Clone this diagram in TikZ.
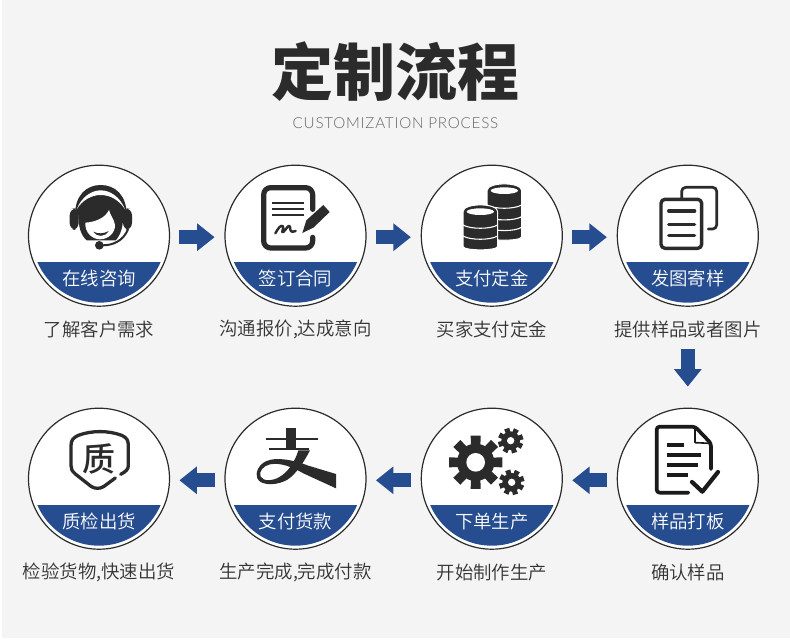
\documentclass[tikz,border=0pt]{standalone}
\usepackage{fontspec}
\usetikzlibrary{arrows.meta}
\newfontfamily\cjk{Noto Sans CJK SC}[UprightFont=* DemiLight,BoldFont=* Black]
\newfontfamily\cjkmed{Noto Sans CJK SC}[UprightFont=* Medium]
\newfontfamily\latlight{Lato}[UprightFont=* Light]
\definecolor{bannerblue}{HTML}{264D8F}
\definecolor{pagegray}{HTML}{F4F4F4}
\definecolor{inkdark}{HTML}{2B2B2B}
\definecolor{inkblack}{HTML}{1A1A1A}
\definecolor{capgray}{HTML}{333333}
\tikzset{
  ringnode/.style={circle,draw=inkdark,line width=1.2pt,fill=white,minimum size=141pt,inner sep=0pt},
  badgetext/.style={text=white,font=\cjk\fontsize{18.4}{20}\selectfont,inner sep=0pt},
  captext/.style={text=capgray,font=\cjk\fontsize{18.4}{20}\selectfont,inner sep=0pt},
  flowarrow/.style={draw=bannerblue,line width=14pt,-{Triangle[length=17.5pt,width=26.6pt,color=bannerblue]}},
  iconline/.style={draw=inkdark,line cap=round,line join=round},
  zoomed/.style={x=0.33333pt,y=-0.33333pt},
}
% name, cx, cy, banner text, caption
\newcommand{\stagecircle}[5]{%
  \node[ringnode] (#1) at (#2,#3) {};
  \begin{scope}
    \clip (#2,#3) circle (67pt);
    \fill[bannerblue] (#2-70,#3+26.2) rectangle (#2+70,#3+70);
  \end{scope}
  \node[badgetext] (#1b) at (#2,#3+43) {#4};
  \node[captext] (#1c) at (#2,#3+94) {#5};
}
\newcommand{\gearicon}[7]{% cx cy outer body hole toothwidth rotation
  \fill[inkdark] (#1,#2) circle[radius=#4];
  \foreach \a in {0,45,...,315}{
    \fill[inkdark,shift={(#1,#2)},rotate=#7] ({\a+atan(#6/2/#3)}:{sqrt(#3*#3+#6*#6/4)}) -- ({\a-atan(#6/2/#3)}:{sqrt(#3*#3+#6*#6/4)}) -- ({\a-atan(#6/2/#4)}:{sqrt(#4*#4+#6*#6/4)-3}) -- ({\a+atan(#6/2/#4)}:{sqrt(#4*#4+#6*#6/4)-3}) -- cycle;
  }
  \fill[white] (#1,#2) circle[radius=#5];
}
\newcommand{\coinstack}[4]{% cx top-y bottom-y, band list
  \fill[inkdark,draw=white,line width=1pt] (#1-52,#2) .. controls (#1-52,#2-27) and (#1+52,#2-27) .. (#1+52,#2) -- (#1+52,#3-10) .. controls (#1+52,#3+4) and (#1-52,#3+4) .. (#1-52,#3-10) -- cycle;
  \fill[white] (#1,#2) ellipse[x radius=41,y radius=10];
  \foreach \b in {#4}{
    \draw[white,line width=1.1pt] (#1-52,\b) .. controls (#1-30,\b+13) and (#1+30,\b+13) .. (#1+52,\b);
  }
}
\begin{document}
\begin{tikzpicture}[x=1pt,y=-1pt]
\useasboundingbox (0,0) rectangle (790,644);
\fill[white] (0,0) rectangle (790,644);
\fill[pagegray] (2,0) rectangle (790,638);

\node[inner sep=0pt,text=inkdark,font=\cjk\bfseries\fontsize{62}{64}\selectfont] (title) at (395.5,71.5) {定制流程};
\node[inner sep=0pt,text=black!60,font=\latlight\fontsize{15.2}{16}\selectfont] (subtitle) at (395.5,123) {\addfontfeature{LetterSpace=5}CUSTOMIZATION PROCESS};

\stagecircle{s1}{99}{235.7}{在线咨询}{了解客户需求}
\stagecircle{s2}{295.5}{235.7}{签订合同}{沟通报价,达成意向}
\stagecircle{s3}{491.8}{235.7}{支付定金}{买家支付定金}
\stagecircle{s4}{687.8}{235.7}{发图寄样}{提供样品或者图片}
\stagecircle{s8}{687.8}{478.7}{样品打板}{确认样品}
\stagecircle{s7}{491.8}{478.7}{下单生产}{开始制作生产}
\stagecircle{s6}{295.5}{478.7}{支付货款}{生产完成,完成付款}
\stagecircle{s5}{99}{478.7}{质检出货}{检验货物,快速出货}

% connectors
\draw[flowarrow] ([xshift=9.3pt,yshift=-1.5pt]s1.east) -- ([xshift=-9.8pt,yshift=-1.5pt]s2.west);
\draw[flowarrow] ([xshift=9.3pt,yshift=-1.5pt]s2.east) -- ([xshift=-9.8pt,yshift=-1.5pt]s3.west);
\draw[flowarrow] ([xshift=9.3pt,yshift=-1.5pt]s3.east) -- ([xshift=-9.8pt,yshift=-1.5pt]s4.west);
\draw[flowarrow] ([yshift=-11pt]s4c.south) -- ([yshift=21pt]s8.north);
\draw[flowarrow] ([xshift=-9.8pt,yshift=-1.6pt]s8.west) -- ([xshift=9.3pt,yshift=-1.6pt]s7.east);
\draw[flowarrow] ([xshift=-9.8pt,yshift=-1.6pt]s7.west) -- ([xshift=9.3pt,yshift=-1.6pt]s6.east);
\draw[flowarrow] ([xshift=-9.8pt,yshift=-1.6pt]s6.west) -- ([xshift=9.3pt,yshift=-1.6pt]s5.east);

% icon 1: headset
\begin{scope}[shift={(60,180)},zoomed]
  \fill[inkdark] (45,105) .. controls (45,45) and (80,15) .. (122,15) .. controls (165,15) and (200,45) .. (200,105) -- cycle;
  \fill[inkdark,rounded corners=7pt] (29,85) rectangle (56,150);
  \fill[inkdark,rounded corners=7pt] (189,85) rectangle (216,150);
  \fill[white] (50,88) .. controls (65,50) and (95,31) .. (122,31) .. controls (150,31) and (180,50) .. (195,88) .. controls (178,60) and (150,45) .. (122,45) .. controls (95,45) and (67,60) .. (50,88) -- cycle;
  \fill[inkdark] (55,100) .. controls (55,140) and (62,165) .. (80,181) -- (167,181) .. controls (182,165) and (190,140) .. (190,100) -- cycle;
  \fill[white] (76,128) .. controls (105,126) and (135,115) .. (147,90) .. controls (150,105) and (163,118) .. (165,135) .. controls (166,158) and (145,178) .. (120,178) .. controls (97,178) and (74,158) .. (76,128) -- cycle;
  \fill[inkdark] (100,155) .. controls (115,162) and (130,162) .. (146,153) .. controls (135,172) and (110,172) .. (100,155) -- cycle;
  \draw[white,line width=3pt] (132,201) .. controls (160,201) and (190,187) .. (210,148);
  \draw[iconline,line width=2pt] (128,196) .. controls (160,196) and (190,182) .. (204,148);
  \fill[inkdark] (118,196) circle[radius=13];
\end{scope}

% icon 2: signed document
\begin{scope}[shift={(210,150)},zoomed]
  \draw[iconline,line width=5.2pt,rounded corners=7pt] (308,178) -- (308,113) -- (161,113) -- (161,294) -- (308,294) -- (308,262);
  \draw[draw=inkdark,line width=2.1pt] (187,160) -- (282,160) (187,178) -- (282,178) (187,196) -- (282,196);
  \fill[inkdark] (277,249) -- (289,211) -- (340,165) -- (359,186) -- (310,233) -- cycle;
  \draw[iconline,line width=2.4pt] (196,250) .. controls (203,238) and (212,222) .. (219,229) .. controls (222,235) and (212,250) .. (220,246) .. controls (228,240) and (236,220) .. (240,230) .. controls (241,240) and (240,250) .. (257,243);
\end{scope}

% icon 3: coins
\begin{scope}[shift={(410,150)},zoomed]
  \coinstack{283}{122}{270}{165,200,232}
  \coinstack{211}{185}{299}{225,258}
\end{scope}

% icon 4: papers
\begin{scope}[shift={(410,150)},zoomed]
  \draw[iconline,line width=2.7pt,rounded corners=4pt] (815,145) -- (815,112) -- (920,112) -- (920,237) -- (895,237);
  \draw[iconline,line width=3.4pt,rounded corners=4pt] (753,148) rectangle (875,295);
  \draw[iconline,line width=3.2pt] (776,183) -- (854,183) (776,223) -- (854,223) (776,257) -- (854,257);
\end{scope}

% icon 5: shield
\begin{scope}[shift={(60,425)},zoomed]
  \draw[iconline,line width=3.3pt] (166,159) -- (132,184) .. controls (120,192) and (105,192) .. (93,184) -- (46,147) .. controls (36,138) and (33,132) .. (33,122) -- (33,62) .. controls (33,45) and (40,38) .. (55,31) .. controls (95,16) and (145,16) .. (185,31) .. controls (200,38) and (205,45) .. (205,62) -- (205,122) .. controls (205,132) and (198,140) .. (182,148);
  \node[inner sep=0pt,text=inkdark,font=\cjkmed\fontsize{33}{34}\selectfont] (shieldchar) at (118,102) {质};
\end{scope}

% icon 6: zhi mark
\begin{scope}[shift={(250,425)},zoomed]
  \fill[inkdark] (108,10) rectangle (138,75);
  \fill[inkdark] (48,38) rectangle (205,46);
  \fill[inkdark] (58,68) rectangle (178,76);
  \fill[inkdark] (258,147) -- (175,122) .. controls (130,105) and (80,95) .. (50,108) .. controls (25,118) and (15,145) .. (22,160) .. controls (30,180) and (70,182) .. (100,170) .. controls (130,160) and (160,115) .. (180,76) -- (145,76) .. controls (135,110) and (115,140) .. (90,155) .. controls (70,168) and (40,170) .. (32,155) .. controls (25,140) and (40,122) .. (60,118) .. controls (90,112) and (125,125) .. (160,145) -- (258,190) -- cycle;
\end{scope}

% icon 7: gears
\begin{scope}[shift={(445,425)},zoomed]
  \gearicon{92}{112}{80}{56}{28}{30}{0}
  \gearicon{197}{47}{38}{28}{11}{16}{18}
  \gearicon{200}{172}{38}{28}{11}{16}{18}
\end{scope}

% icon 8: document with check
\begin{scope}[shift={(645,420)},zoomed]
  \draw[draw=inkblack,line cap=round,line join=round,line width=3.7pt,rounded corners=3pt] (198,147) -- (198,70) -- (150,20) -- (35,20) -- (35,218) -- (130,218);
  \draw[draw=inkblack,line cap=round,line join=round,line width=1.6pt] (150,22) -- (150,68) -- (196,70);
  \draw[draw=inkblack,line width=4pt] (65,75) -- (118,75) (65,105) -- (168,105) (65,135) -- (160,135) (65,165) -- (130,165);
  \draw[draw=inkblack,line cap=round,line join=round,line width=4.2pt] (141,186) -- (172,215) -- (219,156);
\end{scope}
\end{tikzpicture}
\end{document}
